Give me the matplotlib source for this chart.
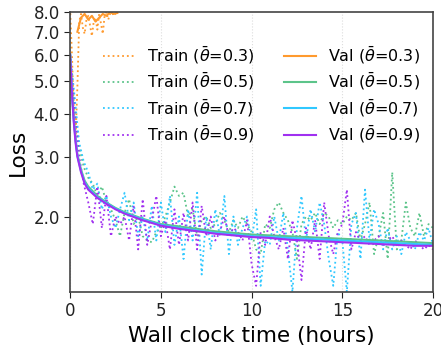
import numpy as np
import matplotlib.pyplot as plt
from matplotlib.ticker import FixedLocator, NullLocator

# train curves, sampled every 0.25 h
t_train = np.arange(0, 20.01, 0.25)

train_05 = [6.0, 4.2, 3.2, 2.8, 2.6, 2.5, 2.3, 2.45, 2.2, 2.1, 1.95, 1.75, 2.05, 2.25, 1.9, 2.0,
            1.75, 1.7, 1.68, 1.8, 1.85, 2.0, 2.2, 2.45, 2.3, 2.35, 2.0, 2.1, 1.75, 1.95, 2.0, 1.85,
            1.9, 2.05, 1.95, 1.8, 1.95, 1.85, 2.0, 1.9, 1.8, 1.6, 1.55, 1.9, 1.85, 2.1, 2.2, 2.05,
            1.95, 1.8, 1.5, 1.9, 2.0, 1.95, 2.05, 1.9, 2.05, 2.0, 1.85, 1.95, 1.9, 2.0, 1.95, 2.05,
            1.7, 1.9, 2.2, 1.55, 1.75, 2.05, 1.5, 2.7, 1.6, 1.7, 2.2, 1.85, 1.75, 2.05, 1.75, 1.9, 1.85]
train_07 = [6.0, 4.5, 3.3, 2.9, 2.7, 2.4, 2.5, 2.1, 2.3, 2.0, 1.85, 2.1, 2.35, 1.95, 2.2, 1.75,
            2.0, 1.7, 2.15, 1.7, 2.2, 1.8, 2.3, 1.65, 2.0, 1.5, 2.1, 1.7, 2.35, 1.35, 2.0, 1.6,
            2.1, 1.75, 2.3, 1.55, 2.0, 1.65, 1.85, 2.0, 1.7, 2.1, 1.25, 1.7, 1.65, 2.0, 1.7, 2.05,
            1.6, 1.2, 1.85, 2.3, 1.7, 2.1, 1.8, 2.2, 1.9, 1.5, 1.25, 1.8, 1.7, 1.2, 1.9, 2.05,
            1.5, 2.4, 1.7, 2.1, 1.9, 1.6, 1.85, 1.6, 1.75, 1.55, 1.8, 1.7, 1.6, 1.8, 1.7, 1.85, 1.65]
train_09 = [6.0, 4.0, 3.0, 2.5, 2.2, 1.9, 2.45, 1.85, 2.3, 1.75, 2.0, 1.9, 2.0, 1.7, 2.15, 1.6,
            2.25, 1.65, 1.95, 2.3, 1.75, 1.95, 1.6, 2.1, 1.65, 2.05, 1.7, 2.2, 1.6, 2.15, 1.75, 2.0,
            1.7, 1.8, 2.0, 1.75, 1.85, 1.8, 1.7, 1.95, 1.45, 1.25, 1.8, 1.65, 2.0, 1.75, 1.6, 1.85,
            1.5, 1.95, 1.7, 1.3, 1.85, 1.6, 1.95, 1.5, 2.2, 1.75, 1.55, 1.8, 1.9, 2.4, 1.6, 1.8,
            1.7, 1.75, 1.65, 1.7, 1.75, 1.65, 1.7, 1.75, 1.65, 1.7, 1.65, 1.6, 1.7, 1.65, 1.6, 1.65, 1.6]

# 0.3 diverges and was stopped early
t_train_03 = [0, 0.1, 0.2, 0.3, 0.4, 0.5, 0.6, 0.7, 0.8, 0.9, 1.0, 1.1, 1.2, 1.3, 1.4, 1.5, 1.6,
              1.7, 1.8, 1.9, 2.0, 2.1, 2.2, 2.3, 2.4, 2.5]
train_03 = [8.2, 6.0, 4.2, 3.4, 4.8, 7.5, 7.9, 7.2, 6.9, 7.6, 7.8, 7.3, 6.8, 7.5, 7.7, 7.1, 7.9,
            7.4, 6.9, 7.8, 8.0, 7.6, 7.9, 8.0, 7.8, 7.9]

# validation curves
t_val = [0, 0.1, 0.2, 0.3, 0.4, 0.6, 0.8, 1.0, 1.5, 2, 2.5, 3, 4, 5, 6, 7, 8, 9, 10, 11, 12, 13,
         14, 15, 16, 17, 18, 19, 20]
val_05 = [6.0, 4.7, 3.9, 3.4, 3.05, 2.75, 2.55, 2.45, 2.3, 2.2, 2.12, 2.06, 1.97, 1.9, 1.87,
          1.84, 1.81, 1.79, 1.77, 1.76, 1.75, 1.74, 1.73, 1.72, 1.71, 1.70, 1.69, 1.68, 1.67]
val_07 = [6.0, 4.6, 3.85, 3.35, 3.02, 2.72, 2.52, 2.42, 2.28, 2.19, 2.11, 2.05, 1.96, 1.89, 1.85,
          1.82, 1.79, 1.77, 1.75, 1.74, 1.73, 1.72, 1.71, 1.70, 1.69, 1.68, 1.67, 1.66, 1.65]
val_09 = [6.0, 4.6, 3.8, 3.3, 3.0, 2.7, 2.5, 2.4, 2.27, 2.18, 2.1, 2.04, 1.95, 1.88, 1.84,
          1.81, 1.78, 1.76, 1.74, 1.73, 1.71, 1.70, 1.69, 1.68, 1.67, 1.66, 1.65, 1.64, 1.64]
t_val_03 = [0.4, 0.6, 0.8, 1.0, 1.2, 1.4, 1.6, 1.8, 2.0, 2.2, 2.4, 2.6]
val_03 = [7.0, 7.7, 7.9, 7.6, 7.8, 7.5, 7.7, 7.9, 7.8, 8.0, 7.9, 7.95]

c03 = '#ff9a2e'
c05 = '#5cc48a'
c07 = '#30c8ff'
c09 = '#a030f0'

fig = plt.figure(figsize=(4.41, 3.45), dpi=100)
ax = fig.add_axes([0.159, 0.154, 0.823, 0.811])

ax.plot(t_train_03, train_03, ':', color=c03, lw=1.3, label=r'Train ($\bar{\theta}$=0.3)')
ax.plot(t_train, train_05, ':', color=c05, lw=1.3, label=r'Train ($\bar{\theta}$=0.5)')
ax.plot(t_train, train_07, ':', color=c07, lw=1.3, label=r'Train ($\bar{\theta}$=0.7)')
ax.plot(t_train, train_09, ':', color=c09, lw=1.3, label=r'Train ($\bar{\theta}$=0.9)')
ax.plot(t_val_03, val_03, '-', color=c03, lw=1.5, label=r'Val ($\bar{\theta}$=0.3)')
ax.plot(t_val, val_05, '-', color=c05, lw=1.5, label=r'Val ($\bar{\theta}$=0.5)')
ax.plot(t_val, val_07, '-', color=c07, lw=1.5, label=r'Val ($\bar{\theta}$=0.7)')
ax.plot(t_val, val_09, '-', color=c09, lw=1.5, label=r'Val ($\bar{\theta}$=0.9)')

ax.set_yscale('log')
ax.set_ylim(1.2, 8.0)
ax.set_xlim(0, 20)
ax.yaxis.set_major_locator(FixedLocator([2, 3, 4, 5, 6, 7, 8]))
ax.yaxis.set_minor_locator(NullLocator())
ax.set_yticklabels(['2.0', '3.0', '4.0', '5.0', '6.0', '7.0', '8.0'])
ax.set_xticks([0, 5, 10, 15, 20])
ax.tick_params(labelsize=12, colors='#222222', length=4)
ax.grid(axis='x', color='#dddddd', ls=':', lw=0.8)
for s in ax.spines.values():
    s.set_color('#444444')
    s.set_linewidth(1.2)

ax.set_xlabel('Wall clock time (hours)', fontsize=15.5)
ax.set_ylabel('Loss', fontsize=15.5)

ax.legend(ncol=2, frameon=False, fontsize=11.5, loc='upper left',
          bbox_to_anchor=(0.05, 0.935), columnspacing=1.8, labelspacing=0.32)

fig.savefig('out.png', dpi=100)
